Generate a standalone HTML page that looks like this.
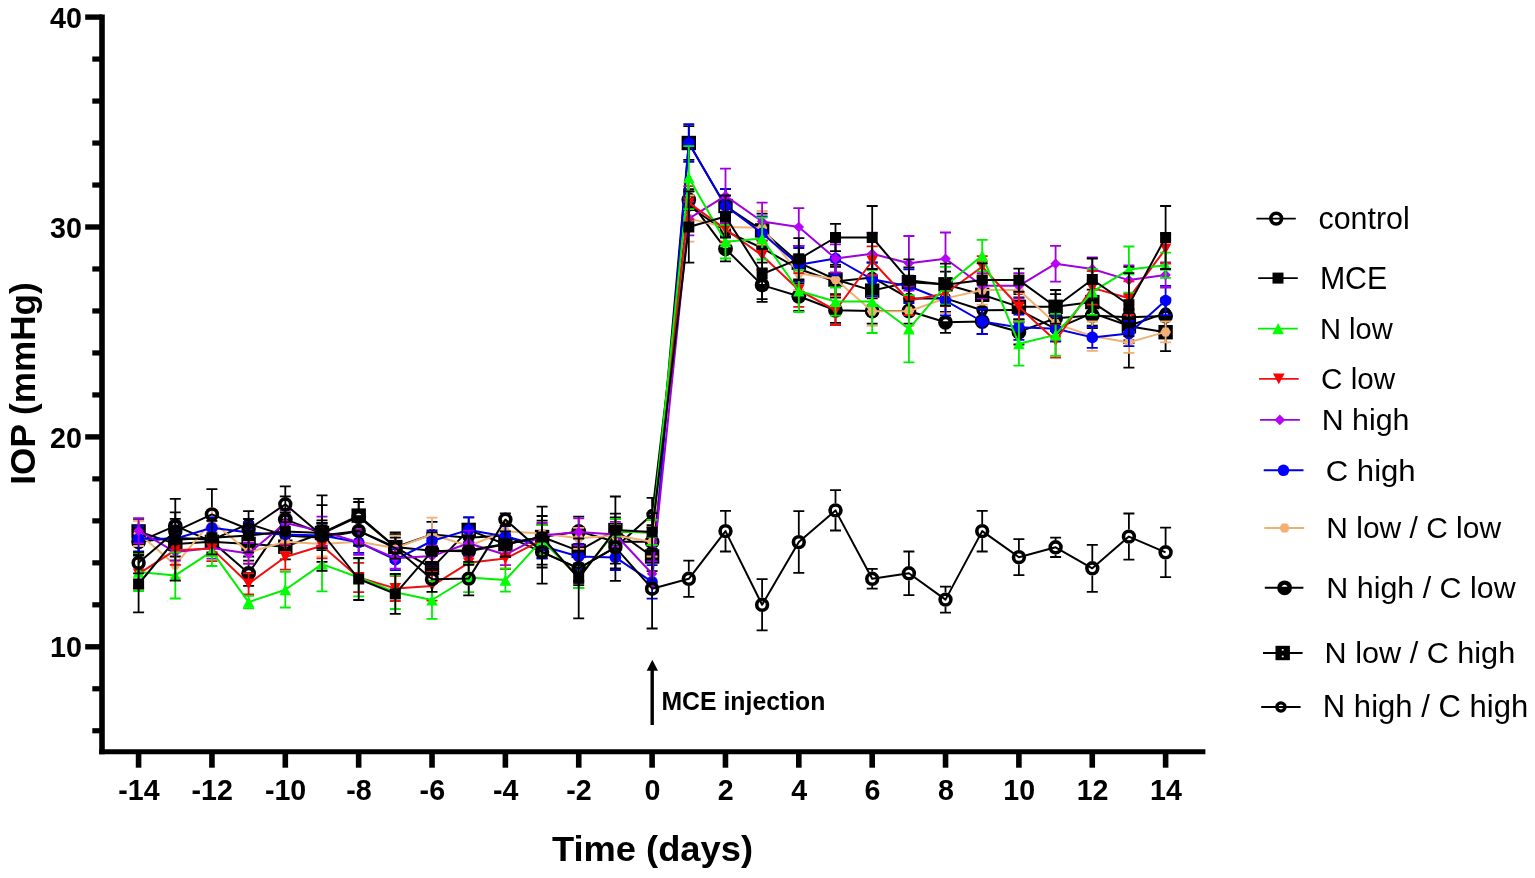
<!DOCTYPE html>
<html><head><meta charset="utf-8"><title>IOP chart</title>
<style>
html,body{margin:0;padding:0;background:#fff;width:1535px;height:878px;overflow:hidden}
svg{display:block}
.b{font-family:"Liberation Sans",Arial,sans-serif;font-weight:bold;font-size:100px;fill:#000}
.r{font-family:"Liberation Sans",Arial,sans-serif;font-weight:normal;font-size:100px;fill:#000}
</style></head><body>
<svg width="1535" height="878" viewBox="0 0 1535 878">
<rect width="1535" height="878" fill="#fff"/>
<path d="M138.6,529.3V536.0M138.6,547.6V554.4M133.1,529.3h11M133.1,554.4h11M175.3,525.1V531.9M175.3,543.5V550.2M169.8,525.1h11M169.8,550.2h11M211.9,527.2V534.0M211.9,545.6V552.3M206.4,527.2h11M206.4,552.3h11M248.6,511.2V518.0M248.6,529.6V536.4M243.1,511.2h11M243.1,536.4h11M285.3,523.0V529.8M285.3,541.4V548.1M279.8,523.0h11M279.8,548.1h11M322.0,525.1V531.9M322.0,543.5V550.2M316.5,525.1h11M316.5,550.2h11M358.7,516.2V525.1M358.7,536.7V545.6M353.2,516.2h11M353.2,545.6h11M395.3,534.5V541.3M395.3,552.9V559.7M389.8,534.5h11M389.8,559.7h11M432.0,521.9V528.7M432.0,540.3V547.1M426.5,521.9h11M426.5,547.1h11M468.7,525.1V531.9M468.7,543.5V550.2M463.2,525.1h11M463.2,550.2h11M505.4,523.0V529.8M505.4,541.4V548.1M499.9,523.0h11M499.9,548.1h11M542.1,539.5V546.3M542.1,557.9V564.7M536.6,539.5h11M536.6,564.7h11M578.7,555.7V562.5M578.7,574.1V580.9M573.2,555.7h11M573.2,580.9h11M615.4,513.7V541.5M615.4,553.1V580.9M609.9,513.7h11M609.9,580.9h11M652.1,497.8V508.8M652.1,520.4V531.4M646.6,497.8h11M646.6,531.4h11M688.8,191.3V200.2M688.8,211.8V220.7M683.3,191.3h11M683.3,220.7h11M725.5,216.5V225.4M725.5,237.0V245.9M720.0,216.5h11M720.0,245.9h11M762.1,233.3V242.2M762.1,253.8V262.7M756.6,233.3h11M756.6,262.7h11M798.8,254.3V263.2M798.8,274.8V283.7M793.3,254.3h11M793.3,283.7h11M835.5,266.9V275.8M835.5,287.4V296.3M830.0,266.9h11M830.0,296.3h11M872.2,262.7V271.6M872.2,283.2V292.1M866.7,262.7h11M866.7,292.1h11M908.9,283.7V292.6M908.9,304.2V313.1M903.4,283.7h11M903.4,313.1h11M945.5,283.7V292.6M945.5,304.2V313.1M940.0,283.7h11M940.0,313.1h11M982.2,297.7V304.5M982.2,316.1V322.9M976.7,297.7h11M976.7,322.9h11M1018.9,297.3V304.1M1018.9,315.7V322.5M1013.4,297.3h11M1013.4,322.5h11M1055.6,316.2V323.0M1055.6,334.6V341.4M1050.1,316.2h11M1050.1,341.4h11M1092.3,300.5V307.3M1092.3,318.9V325.7M1086.8,300.5h11M1086.8,325.7h11M1128.9,311.0V319.9M1128.9,331.5V340.3M1123.4,311.0h11M1123.4,340.3h11M1165.6,298.4V307.3M1165.6,318.9V327.8M1160.1,298.4h11M1160.1,327.8h11" stroke="#000" stroke-width="1.8" fill="none"/>
<polyline points="138.6,541.8 175.3,537.7 211.9,539.8 248.6,523.8 285.3,535.6 322.0,537.7 358.7,530.9 395.3,547.1 432.0,534.5 468.7,537.7 505.4,535.6 542.1,552.1 578.7,568.3 615.4,547.3 652.1,514.6 688.8,206.0 725.5,231.2 762.1,248.0 798.8,269.0 835.5,281.6 872.2,277.4 908.9,298.4 945.5,298.4 982.2,310.3 1018.9,309.9 1055.6,328.8 1092.3,313.1 1128.9,325.7 1165.6,313.1" fill="none" stroke="#000" stroke-width="2" stroke-linejoin="round"/>
<circle cx="138.6" cy="541.8" r="4.10" fill="none" stroke="#000" stroke-width="3.40"/><circle cx="175.3" cy="537.7" r="4.10" fill="none" stroke="#000" stroke-width="3.40"/><circle cx="211.9" cy="539.8" r="4.10" fill="none" stroke="#000" stroke-width="3.40"/><circle cx="248.6" cy="523.8" r="4.10" fill="none" stroke="#000" stroke-width="3.40"/><circle cx="285.3" cy="535.6" r="4.10" fill="none" stroke="#000" stroke-width="3.40"/><circle cx="322.0" cy="537.7" r="4.10" fill="none" stroke="#000" stroke-width="3.40"/><circle cx="358.7" cy="530.9" r="4.10" fill="none" stroke="#000" stroke-width="3.40"/><circle cx="395.3" cy="547.1" r="4.10" fill="none" stroke="#000" stroke-width="3.40"/><circle cx="432.0" cy="534.5" r="4.10" fill="none" stroke="#000" stroke-width="3.40"/><circle cx="468.7" cy="537.7" r="4.10" fill="none" stroke="#000" stroke-width="3.40"/><circle cx="505.4" cy="535.6" r="4.10" fill="none" stroke="#000" stroke-width="3.40"/><circle cx="542.1" cy="552.1" r="4.10" fill="none" stroke="#000" stroke-width="3.40"/><circle cx="578.7" cy="568.3" r="4.10" fill="none" stroke="#000" stroke-width="3.40"/><circle cx="615.4" cy="547.3" r="4.10" fill="none" stroke="#000" stroke-width="3.40"/><circle cx="652.1" cy="514.6" r="4.10" fill="none" stroke="#000" stroke-width="3.40"/><circle cx="688.8" cy="206.0" r="4.10" fill="none" stroke="#000" stroke-width="3.40"/><circle cx="725.5" cy="231.2" r="4.10" fill="none" stroke="#000" stroke-width="3.40"/><circle cx="762.1" cy="248.0" r="4.10" fill="none" stroke="#000" stroke-width="3.40"/><circle cx="798.8" cy="269.0" r="4.10" fill="none" stroke="#000" stroke-width="3.40"/><circle cx="835.5" cy="281.6" r="4.10" fill="none" stroke="#000" stroke-width="3.40"/><circle cx="872.2" cy="277.4" r="4.10" fill="none" stroke="#000" stroke-width="3.40"/><circle cx="908.9" cy="298.4" r="4.10" fill="none" stroke="#000" stroke-width="3.40"/><circle cx="945.5" cy="298.4" r="4.10" fill="none" stroke="#000" stroke-width="3.40"/><circle cx="982.2" cy="310.3" r="4.10" fill="none" stroke="#000" stroke-width="3.40"/><circle cx="1018.9" cy="309.9" r="4.10" fill="none" stroke="#000" stroke-width="3.40"/><circle cx="1055.6" cy="328.8" r="4.10" fill="none" stroke="#000" stroke-width="3.40"/><circle cx="1092.3" cy="313.1" r="4.10" fill="none" stroke="#000" stroke-width="3.40"/><circle cx="1128.9" cy="325.7" r="4.10" fill="none" stroke="#000" stroke-width="3.40"/><circle cx="1165.6" cy="313.1" r="4.10" fill="none" stroke="#000" stroke-width="3.40"/>
<path d="M138.6,518.8V543.9M133.1,518.8h11M133.1,543.9h11M175.3,531.4V556.5M169.8,531.4h11M169.8,556.5h11M211.9,529.3V554.4M206.4,529.3h11M206.4,554.4h11M248.6,531.4V556.5M243.1,531.4h11M243.1,556.5h11M285.3,534.1V559.3M279.8,534.1h11M279.8,559.3h11M322.0,520.4V545.6M316.5,520.4h11M316.5,545.6h11M358.7,498.8V532.4M353.2,498.8h11M353.2,532.4h11M395.3,534.5V559.7M389.8,534.5h11M389.8,559.7h11M432.0,553.4V582.8M426.5,553.4h11M426.5,582.8h11M468.7,517.3V542.5M463.2,517.3h11M463.2,542.5h11M505.4,531.6V556.8M499.9,531.6h11M499.9,556.8h11M542.1,524.4V549.6M536.6,524.4h11M536.6,549.6h11M578.7,538.3V563.5M573.2,538.3h11M573.2,563.5h11M615.4,517.5V542.7M609.9,517.5h11M609.9,542.7h11M652.1,541.8V571.2M646.6,541.8h11M646.6,571.2h11M688.8,126.2V159.8M683.3,126.2h11M683.3,159.8h11M725.5,189.2V222.8M720.0,189.2h11M720.0,222.8h11M762.1,213.6V247.2M756.6,213.6h11M756.6,247.2h11M798.8,245.9V279.5M793.3,245.9h11M793.3,279.5h11M835.5,264.8V294.2M830.0,264.8h11M830.0,294.2h11M872.2,275.9V305.3M866.7,275.9h11M866.7,305.3h11M908.9,267.5V296.9M903.4,267.5h11M903.4,296.9h11M945.5,271.7V296.9M940.0,271.7h11M940.0,296.9h11M982.2,282.2V307.4M976.7,282.2h11M976.7,307.4h11M1018.9,294.2V319.4M1013.4,294.2h11M1013.4,319.4h11M1055.6,294.2V319.4M1050.1,294.2h11M1050.1,319.4h11M1092.3,289.6V314.7M1086.8,289.6h11M1086.8,314.7h11M1128.9,309.5V343.1M1123.4,309.5h11M1123.4,343.1h11M1165.6,313.3V351.1M1160.1,313.3h11M1160.1,351.1h11" stroke="#000" stroke-width="1.8" fill="none"/>
<polyline points="138.6,531.4 175.3,543.9 211.9,541.8 248.6,543.9 285.3,546.7 322.0,533.0 358.7,515.6 395.3,547.1 432.0,568.1 468.7,529.9 505.4,544.2 542.1,537.0 578.7,550.9 615.4,530.1 652.1,556.5 688.8,143.0 725.5,206.0 762.1,230.4 798.8,262.7 835.5,279.5 872.2,290.6 908.9,282.2 945.5,284.3 982.2,294.8 1018.9,306.8 1055.6,306.8 1092.3,302.1 1128.9,326.3 1165.6,332.2" fill="none" stroke="#000" stroke-width="2" stroke-linejoin="round"/>
<rect x="131.4" y="524.2" width="14.40" height="14.40" fill="#000"/><rect x="137.7" y="527.4" width="1.80" height="1.60" fill="#fff"/><rect x="137.7" y="534.0" width="1.80" height="1.60" fill="#fff"/><rect x="168.1" y="536.7" width="14.40" height="14.40" fill="#000"/><rect x="174.4" y="539.9" width="1.80" height="1.60" fill="#fff"/><rect x="174.4" y="546.5" width="1.80" height="1.60" fill="#fff"/><rect x="204.7" y="534.6" width="14.40" height="14.40" fill="#000"/><rect x="211.0" y="537.8" width="1.80" height="1.60" fill="#fff"/><rect x="211.0" y="544.4" width="1.80" height="1.60" fill="#fff"/><rect x="241.4" y="536.7" width="14.40" height="14.40" fill="#000"/><rect x="247.7" y="539.9" width="1.80" height="1.60" fill="#fff"/><rect x="247.7" y="546.5" width="1.80" height="1.60" fill="#fff"/><rect x="278.1" y="539.5" width="14.40" height="14.40" fill="#000"/><rect x="284.4" y="542.7" width="1.80" height="1.60" fill="#fff"/><rect x="284.4" y="549.3" width="1.80" height="1.60" fill="#fff"/><rect x="314.8" y="525.8" width="14.40" height="14.40" fill="#000"/><rect x="321.1" y="529.0" width="1.80" height="1.60" fill="#fff"/><rect x="321.1" y="535.6" width="1.80" height="1.60" fill="#fff"/><rect x="351.5" y="508.4" width="14.40" height="14.40" fill="#000"/><rect x="357.8" y="511.6" width="1.80" height="1.60" fill="#fff"/><rect x="357.8" y="518.2" width="1.80" height="1.60" fill="#fff"/><rect x="388.1" y="539.9" width="14.40" height="14.40" fill="#000"/><rect x="394.4" y="543.1" width="1.80" height="1.60" fill="#fff"/><rect x="394.4" y="549.7" width="1.80" height="1.60" fill="#fff"/><rect x="424.8" y="560.9" width="14.40" height="14.40" fill="#000"/><rect x="431.1" y="564.1" width="1.80" height="1.60" fill="#fff"/><rect x="431.1" y="570.7" width="1.80" height="1.60" fill="#fff"/><rect x="461.5" y="522.7" width="14.40" height="14.40" fill="#000"/><rect x="467.8" y="525.9" width="1.80" height="1.60" fill="#fff"/><rect x="467.8" y="532.5" width="1.80" height="1.60" fill="#fff"/><rect x="498.2" y="537.0" width="14.40" height="14.40" fill="#000"/><rect x="504.5" y="540.2" width="1.80" height="1.60" fill="#fff"/><rect x="504.5" y="546.8" width="1.80" height="1.60" fill="#fff"/><rect x="534.9" y="529.8" width="14.40" height="14.40" fill="#000"/><rect x="541.2" y="533.0" width="1.80" height="1.60" fill="#fff"/><rect x="541.2" y="539.6" width="1.80" height="1.60" fill="#fff"/><rect x="571.5" y="543.7" width="14.40" height="14.40" fill="#000"/><rect x="577.8" y="546.9" width="1.80" height="1.60" fill="#fff"/><rect x="577.8" y="553.5" width="1.80" height="1.60" fill="#fff"/><rect x="608.2" y="522.9" width="14.40" height="14.40" fill="#000"/><rect x="614.5" y="526.1" width="1.80" height="1.60" fill="#fff"/><rect x="614.5" y="532.7" width="1.80" height="1.60" fill="#fff"/><rect x="644.9" y="549.3" width="14.40" height="14.40" fill="#000"/><rect x="651.2" y="552.5" width="1.80" height="1.60" fill="#fff"/><rect x="651.2" y="559.1" width="1.80" height="1.60" fill="#fff"/><rect x="681.6" y="135.8" width="14.40" height="14.40" fill="#000"/><rect x="687.9" y="139.0" width="1.80" height="1.60" fill="#fff"/><rect x="687.9" y="145.6" width="1.80" height="1.60" fill="#fff"/><rect x="718.3" y="198.8" width="14.40" height="14.40" fill="#000"/><rect x="724.6" y="202.0" width="1.80" height="1.60" fill="#fff"/><rect x="724.6" y="208.6" width="1.80" height="1.60" fill="#fff"/><rect x="754.9" y="223.2" width="14.40" height="14.40" fill="#000"/><rect x="761.2" y="226.4" width="1.80" height="1.60" fill="#fff"/><rect x="761.2" y="233.0" width="1.80" height="1.60" fill="#fff"/><rect x="791.6" y="255.5" width="14.40" height="14.40" fill="#000"/><rect x="797.9" y="258.7" width="1.80" height="1.60" fill="#fff"/><rect x="797.9" y="265.3" width="1.80" height="1.60" fill="#fff"/><rect x="828.3" y="272.3" width="14.40" height="14.40" fill="#000"/><rect x="834.6" y="275.5" width="1.80" height="1.60" fill="#fff"/><rect x="834.6" y="282.1" width="1.80" height="1.60" fill="#fff"/><rect x="865.0" y="283.4" width="14.40" height="14.40" fill="#000"/><rect x="871.3" y="286.6" width="1.80" height="1.60" fill="#fff"/><rect x="871.3" y="293.2" width="1.80" height="1.60" fill="#fff"/><rect x="901.7" y="275.0" width="14.40" height="14.40" fill="#000"/><rect x="908.0" y="278.2" width="1.80" height="1.60" fill="#fff"/><rect x="908.0" y="284.8" width="1.80" height="1.60" fill="#fff"/><rect x="938.3" y="277.1" width="14.40" height="14.40" fill="#000"/><rect x="944.6" y="280.3" width="1.80" height="1.60" fill="#fff"/><rect x="944.6" y="286.9" width="1.80" height="1.60" fill="#fff"/><rect x="975.0" y="287.6" width="14.40" height="14.40" fill="#000"/><rect x="981.3" y="290.8" width="1.80" height="1.60" fill="#fff"/><rect x="981.3" y="297.4" width="1.80" height="1.60" fill="#fff"/><rect x="1011.7" y="299.6" width="14.40" height="14.40" fill="#000"/><rect x="1018.0" y="302.8" width="1.80" height="1.60" fill="#fff"/><rect x="1018.0" y="309.4" width="1.80" height="1.60" fill="#fff"/><rect x="1048.4" y="299.6" width="14.40" height="14.40" fill="#000"/><rect x="1054.7" y="302.8" width="1.80" height="1.60" fill="#fff"/><rect x="1054.7" y="309.4" width="1.80" height="1.60" fill="#fff"/><rect x="1085.1" y="294.9" width="14.40" height="14.40" fill="#000"/><rect x="1091.4" y="298.1" width="1.80" height="1.60" fill="#fff"/><rect x="1091.4" y="304.7" width="1.80" height="1.60" fill="#fff"/><rect x="1121.7" y="319.1" width="14.40" height="14.40" fill="#000"/><rect x="1128.0" y="322.3" width="1.80" height="1.60" fill="#fff"/><rect x="1128.0" y="328.9" width="1.80" height="1.60" fill="#fff"/><rect x="1158.4" y="325.0" width="14.40" height="14.40" fill="#000"/><rect x="1164.7" y="328.2" width="1.80" height="1.60" fill="#fff"/><rect x="1164.7" y="334.8" width="1.80" height="1.60" fill="#fff"/>
<path d="M138.6,529.3V554.4M133.1,529.3h11M133.1,554.4h11M175.3,512.3V539.5M169.8,512.3h11M169.8,539.5h11M211.9,526.7V556.1M206.4,526.7h11M206.4,556.1h11M248.6,560.7V585.9M243.1,560.7h11M243.1,585.9h11M285.3,496.3V542.5M279.8,496.3h11M279.8,542.5h11M322.0,505.1V561.8M316.5,505.1h11M316.5,561.8h11M358.7,502.0V531.4M353.2,502.0h11M353.2,531.4h11M395.3,532.4V561.8M389.8,532.4h11M389.8,561.8h11M432.0,538.1V563.3M426.5,538.1h11M426.5,563.3h11M468.7,538.7V563.9M463.2,538.7h11M463.2,563.9h11M505.4,531.6V556.8M499.9,531.6h11M499.9,556.8h11M542.1,516.0V558.0M536.6,516.0h11M536.6,558.0h11M578.7,516.7V546.0M573.2,516.7h11M573.2,546.0h11M615.4,527.2V556.5M609.9,527.2h11M609.9,556.5h11M652.1,525.1V558.6M646.6,525.1h11M646.6,558.6h11M688.8,189.2V210.2M683.3,189.2h11M683.3,210.2h11M725.5,236.2V261.4M720.0,236.2h11M720.0,261.4h11M762.1,268.4V301.9M756.6,268.4h11M756.6,301.9h11M798.8,281.6V311.0M793.3,281.6h11M793.3,311.0h11M835.5,297.7V322.9M830.0,297.7h11M830.0,322.9h11M872.2,298.4V323.6M866.7,298.4h11M866.7,323.6h11M908.9,298.4V323.6M903.4,298.4h11M903.4,323.6h11M945.5,311.8V332.8M940.0,311.8h11M940.0,332.8h11M982.2,308.9V334.0M976.7,308.9h11M976.7,334.0h11M1018.9,319.4V344.5M1013.4,319.4h11M1013.4,344.5h11M1055.6,305.7V330.9M1050.1,305.7h11M1050.1,330.9h11M1092.3,303.0V328.2M1086.8,303.0h11M1086.8,328.2h11M1128.9,266.9V367.6M1123.4,266.9h11M1123.4,367.6h11M1165.6,299.2V332.8M1160.1,299.2h11M1160.1,332.8h11" stroke="#000" stroke-width="1.8" fill="none"/>
<polyline points="138.6,541.8 175.3,525.9 211.9,541.4 248.6,573.3 285.3,519.4 322.0,533.5 358.7,516.7 395.3,547.1 432.0,550.7 468.7,551.3 505.4,544.2 542.1,537.0 578.7,531.4 615.4,541.8 652.1,541.8 688.8,199.7 725.5,248.8 762.1,285.1 798.8,296.3 835.5,310.3 872.2,311.0 908.9,311.0 945.5,322.3 982.2,321.5 1018.9,331.9 1055.6,318.3 1092.3,315.6 1128.9,317.3 1165.6,316.0" fill="none" stroke="#000" stroke-width="2" stroke-linejoin="round"/>
<circle cx="138.6" cy="541.8" r="7.40" fill="#000"/><path d="M135.6,540.8 A3.10,3.10 0 0 1 141.5,540.8 Z" fill="#fff"/><circle cx="175.3" cy="525.9" r="7.40" fill="#000"/><path d="M172.3,524.9 A3.10,3.10 0 0 1 178.2,524.9 Z" fill="#fff"/><circle cx="211.9" cy="541.4" r="7.40" fill="#000"/><path d="M209.0,540.4 A3.10,3.10 0 0 1 214.9,540.4 Z" fill="#fff"/><circle cx="248.6" cy="573.3" r="7.40" fill="#000"/><path d="M245.7,572.3 A3.10,3.10 0 0 1 251.6,572.3 Z" fill="#fff"/><circle cx="285.3" cy="519.4" r="7.40" fill="#000"/><path d="M282.4,518.4 A3.10,3.10 0 0 1 288.2,518.4 Z" fill="#fff"/><circle cx="322.0" cy="533.5" r="7.40" fill="#000"/><path d="M319.0,532.5 A3.10,3.10 0 0 1 324.9,532.5 Z" fill="#fff"/><circle cx="358.7" cy="516.7" r="7.40" fill="#000"/><path d="M355.7,515.7 A3.10,3.10 0 0 1 361.6,515.7 Z" fill="#fff"/><circle cx="395.3" cy="547.1" r="7.40" fill="#000"/><path d="M392.4,546.1 A3.10,3.10 0 0 1 398.3,546.1 Z" fill="#fff"/><circle cx="432.0" cy="550.7" r="7.40" fill="#000"/><path d="M429.1,549.7 A3.10,3.10 0 0 1 435.0,549.7 Z" fill="#fff"/><circle cx="468.7" cy="551.3" r="7.40" fill="#000"/><path d="M465.8,550.3 A3.10,3.10 0 0 1 471.6,550.3 Z" fill="#fff"/><circle cx="505.4" cy="544.2" r="7.40" fill="#000"/><path d="M502.4,543.2 A3.10,3.10 0 0 1 508.3,543.2 Z" fill="#fff"/><circle cx="542.1" cy="537.0" r="7.40" fill="#000"/><path d="M539.1,536.0 A3.10,3.10 0 0 1 545.0,536.0 Z" fill="#fff"/><circle cx="578.7" cy="531.4" r="7.40" fill="#000"/><path d="M575.8,530.4 A3.10,3.10 0 0 1 581.7,530.4 Z" fill="#fff"/><circle cx="615.4" cy="541.8" r="7.40" fill="#000"/><path d="M612.5,540.8 A3.10,3.10 0 0 1 618.4,540.8 Z" fill="#fff"/><circle cx="652.1" cy="541.8" r="7.40" fill="#000"/><path d="M649.2,540.8 A3.10,3.10 0 0 1 655.0,540.8 Z" fill="#fff"/><circle cx="688.8" cy="199.7" r="7.40" fill="#000"/><path d="M685.8,198.7 A3.10,3.10 0 0 1 691.7,198.7 Z" fill="#fff"/><circle cx="725.5" cy="248.8" r="7.40" fill="#000"/><path d="M722.5,247.8 A3.10,3.10 0 0 1 728.4,247.8 Z" fill="#fff"/><circle cx="762.1" cy="285.1" r="7.40" fill="#000"/><path d="M759.2,284.1 A3.10,3.10 0 0 1 765.1,284.1 Z" fill="#fff"/><circle cx="798.8" cy="296.3" r="7.40" fill="#000"/><path d="M795.9,295.3 A3.10,3.10 0 0 1 801.8,295.3 Z" fill="#fff"/><circle cx="835.5" cy="310.3" r="7.40" fill="#000"/><path d="M832.6,309.3 A3.10,3.10 0 0 1 838.4,309.3 Z" fill="#fff"/><circle cx="872.2" cy="311.0" r="7.40" fill="#000"/><path d="M869.2,310.0 A3.10,3.10 0 0 1 875.1,310.0 Z" fill="#fff"/><circle cx="908.9" cy="311.0" r="7.40" fill="#000"/><path d="M905.9,310.0 A3.10,3.10 0 0 1 911.8,310.0 Z" fill="#fff"/><circle cx="945.5" cy="322.3" r="7.40" fill="#000"/><path d="M942.6,321.3 A3.10,3.10 0 0 1 948.5,321.3 Z" fill="#fff"/><circle cx="982.2" cy="321.5" r="7.40" fill="#000"/><path d="M979.3,320.5 A3.10,3.10 0 0 1 985.2,320.5 Z" fill="#fff"/><circle cx="1018.9" cy="331.9" r="7.40" fill="#000"/><path d="M1016.0,330.9 A3.10,3.10 0 0 1 1021.8,330.9 Z" fill="#fff"/><circle cx="1055.6" cy="318.3" r="7.40" fill="#000"/><path d="M1052.6,317.3 A3.10,3.10 0 0 1 1058.5,317.3 Z" fill="#fff"/><circle cx="1092.3" cy="315.6" r="7.40" fill="#000"/><path d="M1089.3,314.6 A3.10,3.10 0 0 1 1095.2,314.6 Z" fill="#fff"/><circle cx="1128.9" cy="317.3" r="7.40" fill="#000"/><path d="M1126.0,316.3 A3.10,3.10 0 0 1 1131.9,316.3 Z" fill="#fff"/><circle cx="1165.6" cy="316.0" r="7.40" fill="#000"/><path d="M1162.7,315.0 A3.10,3.10 0 0 1 1168.6,315.0 Z" fill="#fff"/>
<path d="M138.6,520.9V546.0M133.1,520.9h11M133.1,546.0h11M175.3,552.3V577.5M169.8,552.3h11M169.8,577.5h11M211.9,510.4V531.4M206.4,510.4h11M206.4,531.4h11M248.6,541.8V562.8M243.1,541.8h11M243.1,562.8h11M285.3,531.4V552.3M279.8,531.4h11M279.8,552.3h11M322.0,531.4V556.5M316.5,531.4h11M316.5,556.5h11M358.7,529.3V554.4M353.2,529.3h11M353.2,554.4h11M395.3,535.6V560.7M389.8,535.6h11M389.8,560.7h11M432.0,517.7V551.3M426.5,517.7h11M426.5,551.3h11M468.7,533.5V558.6M463.2,533.5h11M463.2,558.6h11M505.4,520.9V541.8M499.9,520.9h11M499.9,541.8h11M542.1,523.0V543.9M536.6,523.0h11M536.6,543.9h11M578.7,527.8V548.8M573.2,527.8h11M573.2,548.8h11M615.4,525.1V546.0M609.9,525.1h11M609.9,546.0h11M652.1,527.2V556.5M646.6,527.2h11M646.6,556.5h11M688.8,195.5V241.7M683.3,195.5h11M683.3,241.7h11M725.5,210.2V243.8M720.0,210.2h11M720.0,243.8h11M762.1,211.0V244.6M756.6,211.0h11M756.6,244.6h11M798.8,256.4V290.0M793.3,256.4h11M793.3,290.0h11M835.5,262.5V296.1M830.0,262.5h11M830.0,296.1h11M872.2,296.5V325.9M866.7,296.5h11M866.7,325.9h11M908.9,296.5V325.9M903.4,296.5h11M903.4,325.9h11M945.5,283.7V313.1M940.0,283.7h11M940.0,313.1h11M982.2,275.3V304.7M976.7,275.3h11M976.7,304.7h11M1018.9,275.3V304.7M1013.4,275.3h11M1013.4,304.7h11M1055.6,308.9V338.2M1050.1,308.9h11M1050.1,338.2h11M1092.3,321.5V350.8M1086.8,321.5h11M1086.8,350.8h11M1128.9,331.9V352.9M1123.4,331.9h11M1123.4,352.9h11M1165.6,321.5V342.4M1160.1,321.5h11M1160.1,342.4h11" stroke="#f0b070" stroke-width="1.8" fill="none"/>
<polyline points="138.6,533.5 175.3,564.9 211.9,520.9 248.6,552.3 285.3,541.8 322.0,543.9 358.7,541.8 395.3,548.1 432.0,534.5 468.7,546.0 505.4,531.4 542.1,533.5 578.7,538.3 615.4,535.6 652.1,541.8 688.8,218.6 725.5,227.0 762.1,227.8 798.8,273.2 835.5,279.3 872.2,311.2 908.9,311.2 945.5,298.4 982.2,290.0 1018.9,290.0 1055.6,323.6 1092.3,336.1 1128.9,342.4 1165.6,331.9" fill="none" stroke="#f0b070" stroke-width="2" stroke-linejoin="round"/>
<polygon points="143.9,533.5 141.2,538.0 135.9,538.0 133.3,533.5 135.9,528.9 141.2,528.9" fill="#f2b077"/><polygon points="180.6,564.9 177.9,569.5 172.6,569.5 170.0,564.9 172.6,560.3 177.9,560.3" fill="#f2b077"/><polygon points="217.2,520.9 214.6,525.4 209.3,525.4 206.6,520.9 209.3,516.3 214.6,516.3" fill="#f2b077"/><polygon points="253.9,552.3 251.3,556.9 246.0,556.9 243.3,552.3 246.0,547.8 251.3,547.8" fill="#f2b077"/><polygon points="290.6,541.8 287.9,546.4 282.7,546.4 280.0,541.8 282.7,537.3 287.9,537.3" fill="#f2b077"/><polygon points="327.3,543.9 324.6,548.5 319.3,548.5 316.7,543.9 319.3,539.4 324.6,539.4" fill="#f2b077"/><polygon points="364.0,541.8 361.3,546.4 356.0,546.4 353.4,541.8 356.0,537.3 361.3,537.3" fill="#f2b077"/><polygon points="400.6,548.1 398.0,552.7 392.7,552.7 390.0,548.1 392.7,543.6 398.0,543.6" fill="#f2b077"/><polygon points="437.3,534.5 434.7,539.1 429.4,539.1 426.7,534.5 429.4,529.9 434.7,529.9" fill="#f2b077"/><polygon points="474.0,546.0 471.4,550.6 466.1,550.6 463.4,546.0 466.1,541.5 471.4,541.5" fill="#f2b077"/><polygon points="510.7,531.4 508.0,535.9 502.7,535.9 500.1,531.4 502.7,526.8 508.0,526.8" fill="#f2b077"/><polygon points="547.4,533.5 544.7,538.0 539.4,538.0 536.8,533.5 539.4,528.9 544.7,528.9" fill="#f2b077"/><polygon points="584.0,538.3 581.4,542.9 576.1,542.9 573.4,538.3 576.1,533.7 581.4,533.7" fill="#f2b077"/><polygon points="620.7,535.6 618.1,540.1 612.8,540.1 610.1,535.6 612.8,531.0 618.1,531.0" fill="#f2b077"/><polygon points="657.4,541.8 654.8,546.4 649.5,546.4 646.8,541.8 649.5,537.3 654.8,537.3" fill="#f2b077"/><polygon points="694.1,218.6 691.4,223.2 686.1,223.2 683.5,218.6 686.1,214.0 691.4,214.0" fill="#f2b077"/><polygon points="730.8,227.0 728.1,231.6 722.8,231.6 720.2,227.0 722.8,222.4 728.1,222.4" fill="#f2b077"/><polygon points="767.4,227.8 764.8,232.4 759.5,232.4 756.8,227.8 759.5,223.2 764.8,223.2" fill="#f2b077"/><polygon points="804.1,273.2 801.5,277.8 796.2,277.8 793.5,273.2 796.2,268.6 801.5,268.6" fill="#f2b077"/><polygon points="840.8,279.3 838.1,283.9 832.9,283.9 830.2,279.3 832.9,274.7 838.1,274.7" fill="#f2b077"/><polygon points="877.5,311.2 874.8,315.8 869.5,315.8 866.9,311.2 869.5,306.6 874.8,306.6" fill="#f2b077"/><polygon points="914.2,311.2 911.5,315.8 906.2,315.8 903.6,311.2 906.2,306.6 911.5,306.6" fill="#f2b077"/><polygon points="950.8,298.4 948.2,303.0 942.9,303.0 940.2,298.4 942.9,293.8 948.2,293.8" fill="#f2b077"/><polygon points="987.5,290.0 984.9,294.6 979.6,294.6 976.9,290.0 979.6,285.4 984.9,285.4" fill="#f2b077"/><polygon points="1024.2,290.0 1021.6,294.6 1016.3,294.6 1013.6,290.0 1016.3,285.4 1021.6,285.4" fill="#f2b077"/><polygon points="1060.9,323.6 1058.2,328.1 1052.9,328.1 1050.3,323.6 1052.9,319.0 1058.2,319.0" fill="#f2b077"/><polygon points="1097.6,336.1 1094.9,340.7 1089.6,340.7 1087.0,336.1 1089.6,331.6 1094.9,331.6" fill="#f2b077"/><polygon points="1134.2,342.4 1131.6,347.0 1126.3,347.0 1123.6,342.4 1126.3,337.9 1131.6,337.9" fill="#f2b077"/><polygon points="1170.9,331.9 1168.3,336.5 1163.0,336.5 1160.3,331.9 1163.0,327.4 1168.3,327.4" fill="#f2b077"/>
<path d="M138.6,526.1V551.3M133.1,526.1h11M133.1,551.3h11M175.3,526.1V551.3M169.8,526.1h11M169.8,551.3h11M211.9,517.3V538.3M206.4,517.3h11M206.4,538.3h11M248.6,522.1V543.1M243.1,522.1h11M243.1,543.1h11M285.3,524.0V545.0M279.8,524.0h11M279.8,545.0h11M322.0,523.0V548.1M316.5,523.0h11M316.5,548.1h11M358.7,531.8V552.8M353.2,531.8h11M353.2,552.8h11M395.3,549.2V570.2M389.8,549.2h11M389.8,570.2h11M432.0,530.5V551.5M426.5,530.5h11M426.5,551.5h11M468.7,517.3V542.5M463.2,517.3h11M463.2,542.5h11M505.4,525.9V546.9M499.9,525.9h11M499.9,546.9h11M542.1,533.5V558.6M536.6,533.5h11M536.6,558.6h11M578.7,543.9V569.1M573.2,543.9h11M573.2,569.1h11M615.4,544.8V570.0M609.9,544.8h11M609.9,570.0h11M652.1,565.1V598.7M646.6,565.1h11M646.6,598.7h11M688.8,124.1V161.9M683.3,124.1h11M683.3,161.9h11M725.5,189.2V222.8M720.0,189.2h11M720.0,222.8h11M762.1,216.5V250.1M756.6,216.5h11M756.6,250.1h11M798.8,248.0V281.6M793.3,248.0h11M793.3,281.6h11M835.5,241.7V275.3M830.0,241.7h11M830.0,275.3h11M872.2,262.5V296.1M866.7,262.5h11M866.7,296.1h11M908.9,269.4V303.0M903.4,269.4h11M903.4,303.0h11M945.5,286.0V315.4M940.0,286.0h11M940.0,315.4h11M982.2,308.9V334.0M976.7,308.9h11M976.7,334.0h11M1018.9,314.7V339.9M1013.4,314.7h11M1013.4,339.9h11M1055.6,316.2V341.4M1050.1,316.2h11M1050.1,341.4h11M1092.3,326.9V347.9M1086.8,326.9h11M1086.8,347.9h11M1128.9,321.0V346.2M1123.4,321.0h11M1123.4,346.2h11M1165.6,285.8V315.2M1160.1,285.8h11M1160.1,315.2h11" stroke="#0000e6" stroke-width="1.8" fill="none"/>
<polyline points="138.6,538.7 175.3,538.7 211.9,527.8 248.6,532.6 285.3,534.5 322.0,535.6 358.7,542.3 395.3,559.7 432.0,541.0 468.7,529.9 505.4,536.4 542.1,546.0 578.7,556.5 615.4,557.4 652.1,581.9 688.8,143.0 725.5,206.0 762.1,233.3 798.8,264.8 835.5,258.5 872.2,279.3 908.9,286.2 945.5,300.7 982.2,321.5 1018.9,327.3 1055.6,328.8 1092.3,337.4 1128.9,333.6 1165.6,300.5" fill="none" stroke="#0000e6" stroke-width="2" stroke-linejoin="round"/>
<circle cx="138.6" cy="538.7" r="5.80" fill="#0000ff"/><circle cx="175.3" cy="538.7" r="5.80" fill="#0000ff"/><circle cx="211.9" cy="527.8" r="5.80" fill="#0000ff"/><circle cx="248.6" cy="532.6" r="5.80" fill="#0000ff"/><circle cx="285.3" cy="534.5" r="5.80" fill="#0000ff"/><circle cx="322.0" cy="535.6" r="5.80" fill="#0000ff"/><circle cx="358.7" cy="542.3" r="5.80" fill="#0000ff"/><circle cx="395.3" cy="559.7" r="5.80" fill="#0000ff"/><circle cx="432.0" cy="541.0" r="5.80" fill="#0000ff"/><circle cx="468.7" cy="529.9" r="5.80" fill="#0000ff"/><circle cx="505.4" cy="536.4" r="5.80" fill="#0000ff"/><circle cx="542.1" cy="546.0" r="5.80" fill="#0000ff"/><circle cx="578.7" cy="556.5" r="5.80" fill="#0000ff"/><circle cx="615.4" cy="557.4" r="5.80" fill="#0000ff"/><circle cx="652.1" cy="581.9" r="5.80" fill="#0000ff"/><circle cx="688.8" cy="143.0" r="5.80" fill="#0000ff"/><circle cx="725.5" cy="206.0" r="5.80" fill="#0000ff"/><circle cx="762.1" cy="233.3" r="5.80" fill="#0000ff"/><circle cx="798.8" cy="264.8" r="5.80" fill="#0000ff"/><circle cx="835.5" cy="258.5" r="5.80" fill="#0000ff"/><circle cx="872.2" cy="279.3" r="5.80" fill="#0000ff"/><circle cx="908.9" cy="286.2" r="5.80" fill="#0000ff"/><circle cx="945.5" cy="300.7" r="5.80" fill="#0000ff"/><circle cx="982.2" cy="321.5" r="5.80" fill="#0000ff"/><circle cx="1018.9" cy="327.3" r="5.80" fill="#0000ff"/><circle cx="1055.6" cy="328.8" r="5.80" fill="#0000ff"/><circle cx="1092.3" cy="337.4" r="5.80" fill="#0000ff"/><circle cx="1128.9" cy="333.6" r="5.80" fill="#0000ff"/><circle cx="1165.6" cy="300.5" r="5.80" fill="#0000ff"/>
<path d="M138.6,518.1V543.3M133.1,518.1h11M133.1,543.3h11M175.3,543.7V560.5M169.8,543.7h11M169.8,560.5h11M211.9,537.7V558.6M206.4,537.7h11M206.4,558.6h11M248.6,542.9V563.9M243.1,542.9h11M243.1,563.9h11M285.3,510.4V535.6M279.8,510.4h11M279.8,535.6h11M322.0,516.7V546.0M316.5,516.7h11M316.5,546.0h11M358.7,529.7V554.9M353.2,529.7h11M353.2,554.9h11M395.3,547.7V568.7M389.8,547.7h11M389.8,568.7h11M432.0,545.6V566.6M426.5,545.6h11M426.5,566.6h11M468.7,530.7V555.9M463.2,530.7h11M463.2,555.9h11M505.4,544.2V565.1M499.9,544.2h11M499.9,565.1h11M542.1,523.0V548.1M536.6,523.0h11M536.6,548.1h11M578.7,518.3V545.6M573.2,518.3h11M573.2,545.6h11M615.4,521.9V547.1M609.9,521.9h11M609.9,547.1h11M652.1,561.2V586.3M646.6,561.2h11M646.6,586.3h11M688.8,201.8V235.4M683.3,201.8h11M683.3,235.4h11M725.5,168.6V223.2M720.0,168.6h11M720.0,223.2h11M762.1,202.7V240.4M756.6,202.7h11M756.6,240.4h11M798.8,208.1V245.9M793.3,208.1h11M793.3,245.9h11M835.5,244.4V272.5M830.0,244.4h11M830.0,272.5h11M872.2,232.7V274.6M866.7,232.7h11M866.7,274.6h11M908.9,236.0V290.6M903.4,236.0h11M903.4,290.6h11M945.5,232.5V284.9M940.0,232.5h11M940.0,284.9h11M982.2,273.2V298.4M976.7,273.2h11M976.7,298.4h11M1018.9,273.2V298.4M1013.4,273.2h11M1013.4,298.4h11M1055.6,245.9V281.6M1050.1,245.9h11M1050.1,281.6h11M1092.3,257.4V280.5M1086.8,257.4h11M1086.8,280.5h11M1128.9,265.4V294.8M1123.4,265.4h11M1123.4,294.8h11M1165.6,262.3V287.5M1160.1,262.3h11M1160.1,287.5h11" stroke="#a000e0" stroke-width="1.8" fill="none"/>
<polyline points="138.6,530.7 175.3,552.1 211.9,548.1 248.6,553.4 285.3,523.0 322.0,531.4 358.7,542.3 395.3,558.2 432.0,556.1 468.7,543.3 505.4,554.7 542.1,535.6 578.7,532.0 615.4,534.5 652.1,573.8 688.8,218.6 725.5,195.9 762.1,221.5 798.8,227.0 835.5,258.5 872.2,253.7 908.9,263.3 945.5,258.7 982.2,285.8 1018.9,285.8 1055.6,263.7 1092.3,269.0 1128.9,280.1 1165.6,274.9" fill="none" stroke="#a000e0" stroke-width="2" stroke-linejoin="round"/>
<polygon points="138.6,525.4 143.9,530.7 138.6,536.0 133.3,530.7" fill="#b800fa"/><polygon points="175.3,546.8 180.6,552.1 175.3,557.4 170.0,552.1" fill="#b800fa"/><polygon points="211.9,542.8 217.2,548.1 211.9,553.4 206.6,548.1" fill="#b800fa"/><polygon points="248.6,548.1 253.9,553.4 248.6,558.7 243.3,553.4" fill="#b800fa"/><polygon points="285.3,517.7 290.6,523.0 285.3,528.3 280.0,523.0" fill="#b800fa"/><polygon points="322.0,526.1 327.3,531.4 322.0,536.7 316.7,531.4" fill="#b800fa"/><polygon points="358.7,537.0 364.0,542.3 358.7,547.6 353.4,542.3" fill="#b800fa"/><polygon points="395.3,552.9 400.6,558.2 395.3,563.5 390.0,558.2" fill="#b800fa"/><polygon points="432.0,550.8 437.3,556.1 432.0,561.4 426.7,556.1" fill="#b800fa"/><polygon points="468.7,538.0 474.0,543.3 468.7,548.6 463.4,543.3" fill="#b800fa"/><polygon points="505.4,549.4 510.7,554.7 505.4,560.0 500.1,554.7" fill="#b800fa"/><polygon points="542.1,530.3 547.4,535.6 542.1,540.9 536.8,535.6" fill="#b800fa"/><polygon points="578.7,526.7 584.0,532.0 578.7,537.3 573.4,532.0" fill="#b800fa"/><polygon points="615.4,529.2 620.7,534.5 615.4,539.8 610.1,534.5" fill="#b800fa"/><polygon points="652.1,568.5 657.4,573.8 652.1,579.1 646.8,573.8" fill="#b800fa"/><polygon points="688.8,213.3 694.1,218.6 688.8,223.9 683.5,218.6" fill="#b800fa"/><polygon points="725.5,190.6 730.8,195.9 725.5,201.2 720.2,195.9" fill="#b800fa"/><polygon points="762.1,216.2 767.4,221.5 762.1,226.8 756.8,221.5" fill="#b800fa"/><polygon points="798.8,221.7 804.1,227.0 798.8,232.3 793.5,227.0" fill="#b800fa"/><polygon points="835.5,253.2 840.8,258.5 835.5,263.8 830.2,258.5" fill="#b800fa"/><polygon points="872.2,248.4 877.5,253.7 872.2,259.0 866.9,253.7" fill="#b800fa"/><polygon points="908.9,258.0 914.2,263.3 908.9,268.6 903.6,263.3" fill="#b800fa"/><polygon points="945.5,253.4 950.8,258.7 945.5,264.0 940.2,258.7" fill="#b800fa"/><polygon points="982.2,280.5 987.5,285.8 982.2,291.1 976.9,285.8" fill="#b800fa"/><polygon points="1018.9,280.5 1024.2,285.8 1018.9,291.1 1013.6,285.8" fill="#b800fa"/><polygon points="1055.6,258.4 1060.9,263.7 1055.6,269.0 1050.3,263.7" fill="#b800fa"/><polygon points="1092.3,263.7 1097.6,269.0 1092.3,274.3 1087.0,269.0" fill="#b800fa"/><polygon points="1128.9,274.8 1134.2,280.1 1128.9,285.4 1123.6,280.1" fill="#b800fa"/><polygon points="1165.6,269.6 1170.9,274.9 1165.6,280.2 1160.3,274.9" fill="#b800fa"/>
<path d="M138.6,559.1V588.4M133.1,559.1h11M133.1,588.4h11M175.3,535.6V564.9M169.8,535.6h11M169.8,564.9h11M211.9,536.0V561.2M206.4,536.0h11M206.4,561.2h11M248.6,573.3V594.3M243.1,573.3h11M243.1,594.3h11M285.3,544.4V569.6M279.8,544.4h11M279.8,569.6h11M322.0,533.2V558.4M316.5,533.2h11M316.5,558.4h11M358.7,562.8V592.2M353.2,562.8h11M353.2,592.2h11M395.3,575.9V601.0M389.8,575.9h11M389.8,601.0h11M432.0,571.2V600.6M426.5,571.2h11M426.5,600.6h11M468.7,550.2V575.4M463.2,550.2h11M463.2,575.4h11M505.4,548.1V569.1M499.9,548.1h11M499.9,569.1h11M542.1,525.1V554.4M536.6,525.1h11M536.6,554.4h11M578.7,567.0V588.0M573.2,567.0h11M573.2,588.0h11M615.4,518.8V543.9M609.9,518.8h11M609.9,543.9h11M652.1,519.8V545.0M646.6,519.8h11M646.6,545.0h11M688.8,186.1V219.7M683.3,186.1h11M683.3,219.7h11M725.5,216.5V241.7M720.0,216.5h11M720.0,241.7h11M762.1,240.9V270.2M756.6,240.9h11M756.6,270.2h11M798.8,273.2V306.8M793.3,273.2h11M793.3,306.8h11M835.5,295.6V325.0M830.0,295.6h11M830.0,325.0h11M872.2,246.3V275.7M866.7,246.3h11M866.7,275.7h11M908.9,285.8V315.2M903.4,285.8h11M903.4,315.2h11M945.5,280.9V306.1M940.0,280.9h11M940.0,306.1h11M982.2,256.2V277.2M976.7,256.2h11M976.7,277.2h11M1018.9,292.1V321.5M1013.4,292.1h11M1013.4,321.5h11M1055.6,324.0V357.6M1050.1,324.0h11M1050.1,357.6h11M1092.3,271.1V304.7M1086.8,271.1h11M1086.8,304.7h11M1128.9,281.4V314.9M1123.4,281.4h11M1123.4,314.9h11M1165.6,234.1V263.5M1160.1,234.1h11M1160.1,263.5h11" stroke="#ee1010" stroke-width="1.8" fill="none"/>
<polyline points="138.6,573.8 175.3,550.2 211.9,548.6 248.6,583.8 285.3,557.0 322.0,545.8 358.7,577.5 395.3,588.4 432.0,585.9 468.7,562.8 505.4,558.6 542.1,539.8 578.7,577.5 615.4,531.4 652.1,532.4 688.8,202.9 725.5,229.1 762.1,255.5 798.8,290.0 835.5,310.3 872.2,261.0 908.9,300.5 945.5,293.5 982.2,266.7 1018.9,306.8 1055.6,340.8 1092.3,287.9 1128.9,298.2 1165.6,248.8" fill="none" stroke="#ee1010" stroke-width="2" stroke-linejoin="round"/>
<polygon points="132.8,568.4 144.4,568.4 138.6,579.2" fill="#ff0000"/><polygon points="169.5,544.8 181.1,544.8 175.3,555.6" fill="#ff0000"/><polygon points="206.1,543.2 217.7,543.2 211.9,554.0" fill="#ff0000"/><polygon points="242.8,578.4 254.4,578.4 248.6,589.2" fill="#ff0000"/><polygon points="279.5,551.6 291.1,551.6 285.3,562.4" fill="#ff0000"/><polygon points="316.2,540.4 327.8,540.4 322.0,551.2" fill="#ff0000"/><polygon points="352.9,572.1 364.5,572.1 358.7,582.9" fill="#ff0000"/><polygon points="389.5,583.0 401.1,583.0 395.3,593.8" fill="#ff0000"/><polygon points="426.2,580.5 437.8,580.5 432.0,591.3" fill="#ff0000"/><polygon points="462.9,557.4 474.5,557.4 468.7,568.2" fill="#ff0000"/><polygon points="499.6,553.2 511.2,553.2 505.4,564.0" fill="#ff0000"/><polygon points="536.3,534.4 547.9,534.4 542.1,545.2" fill="#ff0000"/><polygon points="572.9,572.1 584.5,572.1 578.7,582.9" fill="#ff0000"/><polygon points="609.6,526.0 621.2,526.0 615.4,536.8" fill="#ff0000"/><polygon points="646.3,527.0 657.9,527.0 652.1,537.8" fill="#ff0000"/><polygon points="683.0,197.5 694.6,197.5 688.8,208.3" fill="#ff0000"/><polygon points="719.7,223.7 731.3,223.7 725.5,234.5" fill="#ff0000"/><polygon points="756.3,250.1 767.9,250.1 762.1,260.9" fill="#ff0000"/><polygon points="793.0,284.6 804.6,284.6 798.8,295.4" fill="#ff0000"/><polygon points="829.7,304.9 841.3,304.9 835.5,315.7" fill="#ff0000"/><polygon points="866.4,255.6 878.0,255.6 872.2,266.4" fill="#ff0000"/><polygon points="903.1,295.1 914.7,295.1 908.9,305.9" fill="#ff0000"/><polygon points="939.7,288.1 951.3,288.1 945.5,298.9" fill="#ff0000"/><polygon points="976.4,261.3 988.0,261.3 982.2,272.1" fill="#ff0000"/><polygon points="1013.1,301.4 1024.7,301.4 1018.9,312.2" fill="#ff0000"/><polygon points="1049.8,335.4 1061.4,335.4 1055.6,346.2" fill="#ff0000"/><polygon points="1086.5,282.5 1098.1,282.5 1092.3,293.3" fill="#ff0000"/><polygon points="1123.1,292.8 1134.7,292.8 1128.9,303.6" fill="#ff0000"/><polygon points="1159.8,243.4 1171.4,243.4 1165.6,254.2" fill="#ff0000"/>
<path d="M138.6,553.2V591.0M133.1,553.2h11M133.1,591.0h11M175.3,552.3V598.5M169.8,552.3h11M169.8,598.5h11M211.9,536.6V566.0M206.4,536.6h11M206.4,566.0h11M248.6,595.8V608.4M243.1,595.8h11M243.1,608.4h11M285.3,571.9V607.5M279.8,571.9h11M279.8,607.5h11M322.0,536.8V591.4M316.5,536.8h11M316.5,591.4h11M358.7,558.6V596.4M353.2,558.6h11M353.2,596.4h11M395.3,575.4V609.0M389.8,575.4h11M389.8,609.0h11M432.0,581.1V618.9M426.5,581.1h11M426.5,618.9h11M468.7,562.8V592.2M463.2,562.8h11M463.2,592.2h11M505.4,568.5V591.6M499.9,568.5h11M499.9,591.6h11M542.1,525.1V554.4M536.6,525.1h11M536.6,554.4h11M578.7,567.0V588.0M573.2,567.0h11M573.2,588.0h11M615.4,518.8V543.9M609.9,518.8h11M609.9,543.9h11M652.1,519.8V545.0M646.6,519.8h11M646.6,545.0h11M688.8,146.2V209.2M683.3,146.2h11M683.3,209.2h11M725.5,224.9V258.5M720.0,224.9h11M720.0,258.5h11M762.1,217.6V259.5M756.6,217.6h11M756.6,259.5h11M798.8,270.0V312.0M793.3,270.0h11M793.3,312.0h11M835.5,287.5V315.6M830.0,287.5h11M830.0,315.6h11M872.2,270.0V333.0M866.7,270.0h11M866.7,333.0h11M908.9,295.2V362.4M903.4,295.2h11M903.4,362.4h11M945.5,266.9V304.7M940.0,266.9h11M940.0,304.7h11M982.2,239.8V271.3M976.7,239.8h11M976.7,271.3h11M1018.9,321.7V365.7M1013.4,321.7h11M1013.4,365.7h11M1055.6,313.9V355.9M1050.1,313.9h11M1050.1,355.9h11M1092.3,268.8V314.9M1086.8,268.8h11M1086.8,314.9h11M1128.9,246.5V292.7M1123.4,246.5h11M1123.4,292.7h11M1165.6,252.6V277.8M1160.1,252.6h11M1160.1,277.8h11" stroke="#00ee00" stroke-width="1.8" fill="none"/>
<polyline points="138.6,572.1 175.3,575.4 211.9,551.3 248.6,602.1 285.3,589.7 322.0,564.1 358.7,577.5 395.3,592.2 432.0,600.0 468.7,577.5 505.4,580.1 542.1,539.8 578.7,577.5 615.4,531.4 652.1,532.4 688.8,177.7 725.5,241.7 762.1,238.5 798.8,291.0 835.5,301.5 872.2,301.5 908.9,328.8 945.5,285.8 982.2,255.5 1018.9,343.7 1055.6,334.9 1092.3,291.9 1128.9,269.6 1165.6,265.2" fill="none" stroke="#00ee00" stroke-width="2" stroke-linejoin="round"/>
<polygon points="132.8,577.7 144.4,577.7 138.6,566.5" fill="#00ff00"/><polygon points="169.5,581.0 181.1,581.0 175.3,569.8" fill="#00ff00"/><polygon points="206.1,556.9 217.7,556.9 211.9,545.7" fill="#00ff00"/><polygon points="242.8,607.7 254.4,607.7 248.6,596.5" fill="#00ff00"/><polygon points="279.5,595.3 291.1,595.3 285.3,584.1" fill="#00ff00"/><polygon points="316.2,569.7 327.8,569.7 322.0,558.5" fill="#00ff00"/><polygon points="352.9,583.1 364.5,583.1 358.7,571.9" fill="#00ff00"/><polygon points="389.5,597.8 401.1,597.8 395.3,586.6" fill="#00ff00"/><polygon points="426.2,605.6 437.8,605.6 432.0,594.4" fill="#00ff00"/><polygon points="462.9,583.1 474.5,583.1 468.7,571.9" fill="#00ff00"/><polygon points="499.6,585.7 511.2,585.7 505.4,574.5" fill="#00ff00"/><polygon points="536.3,545.4 547.9,545.4 542.1,534.2" fill="#00ff00"/><polygon points="572.9,583.1 584.5,583.1 578.7,571.9" fill="#00ff00"/><polygon points="609.6,537.0 621.2,537.0 615.4,525.8" fill="#00ff00"/><polygon points="646.3,538.0 657.9,538.0 652.1,526.8" fill="#00ff00"/><polygon points="683.0,183.3 694.6,183.3 688.8,172.1" fill="#00ff00"/><polygon points="719.7,247.3 731.3,247.3 725.5,236.1" fill="#00ff00"/><polygon points="756.3,244.1 767.9,244.1 762.1,232.9" fill="#00ff00"/><polygon points="793.0,296.6 804.6,296.6 798.8,285.4" fill="#00ff00"/><polygon points="829.7,307.1 841.3,307.1 835.5,295.9" fill="#00ff00"/><polygon points="866.4,307.1 878.0,307.1 872.2,295.9" fill="#00ff00"/><polygon points="903.1,334.4 914.7,334.4 908.9,323.2" fill="#00ff00"/><polygon points="939.7,291.4 951.3,291.4 945.5,280.2" fill="#00ff00"/><polygon points="976.4,261.1 988.0,261.1 982.2,249.9" fill="#00ff00"/><polygon points="1013.1,349.3 1024.7,349.3 1018.9,338.1" fill="#00ff00"/><polygon points="1049.8,340.5 1061.4,340.5 1055.6,329.3" fill="#00ff00"/><polygon points="1086.5,297.5 1098.1,297.5 1092.3,286.3" fill="#00ff00"/><polygon points="1123.1,275.2 1134.7,275.2 1128.9,264.0" fill="#00ff00"/><polygon points="1159.8,270.8 1171.4,270.8 1165.6,259.6" fill="#00ff00"/>
<path d="M138.6,555.7V612.4M133.1,555.7h11M133.1,612.4h11M175.3,498.8V580.7M169.8,498.8h11M169.8,580.7h11M211.9,520.9V554.4M206.4,520.9h11M206.4,554.4h11M248.6,518.8V552.3M243.1,518.8h11M243.1,552.3h11M285.3,512.5V550.2M279.8,512.5h11M279.8,550.2h11M322.0,495.3V570.8M316.5,495.3h11M316.5,570.8h11M358.7,558.0V600.0M353.2,558.0h11M353.2,600.0h11M395.3,574.0V613.8M389.8,574.0h11M389.8,613.8h11M432.0,532.4V570.2M426.5,532.4h11M426.5,570.2h11M468.7,535.6V564.9M463.2,535.6h11M463.2,564.9h11M505.4,531.4V556.5M499.9,531.4h11M499.9,556.5h11M542.1,506.6V567.5M536.6,506.6h11M536.6,567.5h11M578.7,538.5V618.3M573.2,538.5h11M573.2,618.3h11M615.4,496.5V563.7M609.9,496.5h11M609.9,563.7h11M652.1,513.1V550.9M646.6,513.1h11M646.6,550.9h11M688.8,191.3V262.7M683.3,191.3h11M683.3,262.7h11M725.5,195.5V237.5M720.0,195.5h11M720.0,237.5h11M762.1,248.8V299.2M756.6,248.8h11M756.6,299.2h11M798.8,238.1V280.1M793.3,238.1h11M793.3,280.1h11M835.5,223.9V251.1M830.0,223.9h11M830.0,251.1h11M872.2,206.0V269.0M866.7,206.0h11M866.7,269.0h11M908.9,259.3V301.3M903.4,259.3h11M903.4,301.3h11M945.5,263.7V305.7M940.0,263.7h11M940.0,305.7h11M982.2,263.3V296.9M976.7,263.3h11M976.7,296.9h11M1018.9,268.6V291.6M1013.4,268.6h11M1013.4,291.6h11M1055.6,290.0V323.6M1050.1,290.0h11M1050.1,323.6h11M1092.3,258.5V300.5M1086.8,258.5h11M1086.8,300.5h11M1128.9,273.2V336.1M1123.4,273.2h11M1123.4,336.1h11M1165.6,206.0V269.0M1160.1,206.0h11M1160.1,269.0h11" stroke="#000" stroke-width="1.8" fill="none"/>
<polyline points="138.6,584.0 175.3,539.8 211.9,537.7 248.6,535.6 285.3,531.4 322.0,533.0 358.7,579.0 395.3,593.9 432.0,551.3 468.7,550.2 505.4,543.9 542.1,537.0 578.7,578.4 615.4,530.1 652.1,532.0 688.8,227.0 725.5,216.5 762.1,274.0 798.8,259.1 835.5,237.5 872.2,237.5 908.9,280.3 945.5,284.7 982.2,280.1 1018.9,280.1 1055.6,306.8 1092.3,279.5 1128.9,304.7 1165.6,237.5" fill="none" stroke="#000" stroke-width="2" stroke-linejoin="round"/>
<rect x="133.1" y="578.5" width="11.00" height="11.00" fill="#000"/><rect x="169.8" y="534.3" width="11.00" height="11.00" fill="#000"/><rect x="206.4" y="532.2" width="11.00" height="11.00" fill="#000"/><rect x="243.1" y="530.1" width="11.00" height="11.00" fill="#000"/><rect x="279.8" y="525.9" width="11.00" height="11.00" fill="#000"/><rect x="316.5" y="527.5" width="11.00" height="11.00" fill="#000"/><rect x="353.2" y="573.5" width="11.00" height="11.00" fill="#000"/><rect x="389.8" y="588.4" width="11.00" height="11.00" fill="#000"/><rect x="426.5" y="545.8" width="11.00" height="11.00" fill="#000"/><rect x="463.2" y="544.7" width="11.00" height="11.00" fill="#000"/><rect x="499.9" y="538.4" width="11.00" height="11.00" fill="#000"/><rect x="536.6" y="531.5" width="11.00" height="11.00" fill="#000"/><rect x="573.2" y="572.9" width="11.00" height="11.00" fill="#000"/><rect x="609.9" y="524.6" width="11.00" height="11.00" fill="#000"/><rect x="646.6" y="526.5" width="11.00" height="11.00" fill="#000"/><rect x="683.3" y="221.5" width="11.00" height="11.00" fill="#000"/><rect x="720.0" y="211.0" width="11.00" height="11.00" fill="#000"/><rect x="756.6" y="268.5" width="11.00" height="11.00" fill="#000"/><rect x="793.3" y="253.6" width="11.00" height="11.00" fill="#000"/><rect x="830.0" y="232.0" width="11.00" height="11.00" fill="#000"/><rect x="866.7" y="232.0" width="11.00" height="11.00" fill="#000"/><rect x="903.4" y="274.8" width="11.00" height="11.00" fill="#000"/><rect x="940.0" y="279.2" width="11.00" height="11.00" fill="#000"/><rect x="976.7" y="274.6" width="11.00" height="11.00" fill="#000"/><rect x="1013.4" y="274.6" width="11.00" height="11.00" fill="#000"/><rect x="1050.1" y="301.3" width="11.00" height="11.00" fill="#000"/><rect x="1086.8" y="274.0" width="11.00" height="11.00" fill="#000"/><rect x="1123.4" y="299.2" width="11.00" height="11.00" fill="#000"/><rect x="1160.1" y="232.0" width="11.00" height="11.00" fill="#000"/>
<path d="M138.6,552.3V555.6M138.6,570.0V573.3M133.1,552.3h11M133.1,573.3h11M175.3,518.8V524.2M175.3,538.6V543.9M169.8,518.8h11M169.8,543.9h11M211.9,489.2V507.2M211.9,521.6V539.5M206.4,489.2h11M206.4,539.5h11M248.6,518.8V522.1M248.6,536.5V539.8M243.1,518.8h11M243.1,539.8h11M285.3,486.4V497.1M285.3,511.5V522.1M279.8,486.4h11M279.8,522.1h11M322.0,523.0V528.4M322.0,542.8V548.1M316.5,523.0h11M316.5,548.1h11M358.7,516.2V523.7M358.7,538.1V545.6M353.2,516.2h11M353.2,545.6h11M395.3,537.7V540.9M395.3,555.3V558.6M389.8,537.7h11M389.8,558.6h11M432.0,566.6V572.0M432.0,586.4V591.8M426.5,566.6h11M426.5,591.8h11M468.7,561.8V571.4M468.7,585.8V595.4M463.2,561.8h11M463.2,595.4h11M499.9,513.3h11M499.9,525.9h11M542.1,520.7V544.9M542.1,559.3V583.6M536.6,520.7h11M536.6,583.6h11M578.7,551.5V561.1M578.7,575.5V585.1M573.2,551.5h11M573.2,585.1h11M615.4,526.3V540.1M615.4,554.5V568.3M609.9,526.3h11M609.9,568.3h11M652.1,548.8V581.5M652.1,595.9V628.5M646.6,548.8h11M646.6,628.5h11M688.8,560.7V571.6M688.8,586.0V596.8M683.3,560.7h11M683.3,596.8h11M725.5,510.8V523.9M725.5,538.3V551.5M720.0,510.8h11M720.0,551.5h11M762.1,579.2V597.6M762.1,612.0V630.4M756.6,579.2h11M756.6,630.4h11M798.8,511.2V534.9M798.8,549.3V572.9M793.3,511.2h11M793.3,572.9h11M835.5,490.2V503.2M835.5,517.6V530.5M830.0,490.2h11M830.0,530.5h11M872.2,568.9V571.6M872.2,586.0V588.7M866.7,568.9h11M866.7,588.7h11M908.9,551.5V566.1M908.9,580.5V595.2M903.4,551.5h11M903.4,595.2h11M945.5,586.6V592.4M945.5,606.8V612.6M940.0,586.6h11M940.0,612.6h11M982.2,510.8V523.9M982.2,538.3V551.5M976.7,510.8h11M976.7,551.5h11M1018.9,539.1V550.0M1018.9,564.4V575.2M1013.4,539.1h11M1013.4,575.2h11M1055.6,537.7V540.1M1055.6,554.5V557.0M1050.1,537.7h11M1050.1,557.0h11M1092.3,544.8V561.1M1092.3,575.5V591.8M1086.8,544.8h11M1086.8,591.8h11M1128.9,513.5V529.4M1128.9,543.8V559.7M1123.4,513.5h11M1123.4,559.7h11M1165.6,527.6V545.1M1165.6,559.5V577.1M1160.1,527.6h11M1160.1,577.1h11" stroke="#000" stroke-width="1.8" fill="none"/>
<polyline points="138.6,562.8 175.3,531.4 211.9,514.4 248.6,529.3 285.3,504.3 322.0,535.6 358.7,530.9 395.3,548.1 432.0,579.2 468.7,578.6 505.4,519.6 542.1,552.1 578.7,568.3 615.4,547.3 652.1,588.7 688.8,578.8 725.5,531.1 762.1,604.8 798.8,542.1 835.5,510.4 872.2,578.8 908.9,573.3 945.5,599.6 982.2,531.1 1018.9,557.2 1055.6,547.3 1092.3,568.3 1128.9,536.6 1165.6,552.3" fill="none" stroke="#000" stroke-width="2" stroke-linejoin="round"/>
<circle cx="138.6" cy="562.8" r="5.40" fill="none" stroke="#000" stroke-width="3.60"/><circle cx="175.3" cy="531.4" r="5.40" fill="none" stroke="#000" stroke-width="3.60"/><circle cx="211.9" cy="514.4" r="5.40" fill="none" stroke="#000" stroke-width="3.60"/><circle cx="248.6" cy="529.3" r="5.40" fill="none" stroke="#000" stroke-width="3.60"/><circle cx="285.3" cy="504.3" r="5.40" fill="none" stroke="#000" stroke-width="3.60"/><circle cx="322.0" cy="535.6" r="5.40" fill="none" stroke="#000" stroke-width="3.60"/><circle cx="358.7" cy="530.9" r="5.40" fill="none" stroke="#000" stroke-width="3.60"/><circle cx="395.3" cy="548.1" r="5.40" fill="none" stroke="#000" stroke-width="3.60"/><circle cx="432.0" cy="579.2" r="5.40" fill="none" stroke="#000" stroke-width="3.60"/><circle cx="468.7" cy="578.6" r="5.40" fill="none" stroke="#000" stroke-width="3.60"/><circle cx="505.4" cy="519.6" r="5.40" fill="none" stroke="#000" stroke-width="3.60"/><circle cx="542.1" cy="552.1" r="5.40" fill="none" stroke="#000" stroke-width="3.60"/><circle cx="578.7" cy="568.3" r="5.40" fill="none" stroke="#000" stroke-width="3.60"/><circle cx="615.4" cy="547.3" r="5.40" fill="none" stroke="#000" stroke-width="3.60"/><circle cx="652.1" cy="588.7" r="5.40" fill="none" stroke="#000" stroke-width="3.60"/><circle cx="688.8" cy="578.8" r="5.40" fill="none" stroke="#000" stroke-width="3.60"/><circle cx="725.5" cy="531.1" r="5.40" fill="none" stroke="#000" stroke-width="3.60"/><circle cx="762.1" cy="604.8" r="5.40" fill="none" stroke="#000" stroke-width="3.60"/><circle cx="798.8" cy="542.1" r="5.40" fill="none" stroke="#000" stroke-width="3.60"/><circle cx="835.5" cy="510.4" r="5.40" fill="none" stroke="#000" stroke-width="3.60"/><circle cx="872.2" cy="578.8" r="5.40" fill="none" stroke="#000" stroke-width="3.60"/><circle cx="908.9" cy="573.3" r="5.40" fill="none" stroke="#000" stroke-width="3.60"/><circle cx="945.5" cy="599.6" r="5.40" fill="none" stroke="#000" stroke-width="3.60"/><circle cx="982.2" cy="531.1" r="5.40" fill="none" stroke="#000" stroke-width="3.60"/><circle cx="1018.9" cy="557.2" r="5.40" fill="none" stroke="#000" stroke-width="3.60"/><circle cx="1055.6" cy="547.3" r="5.40" fill="none" stroke="#000" stroke-width="3.60"/><circle cx="1092.3" cy="568.3" r="5.40" fill="none" stroke="#000" stroke-width="3.60"/><circle cx="1128.9" cy="536.6" r="5.40" fill="none" stroke="#000" stroke-width="3.60"/><circle cx="1165.6" cy="552.3" r="5.40" fill="none" stroke="#000" stroke-width="3.60"/>
<line x1="102.0" y1="14.6" x2="102.0" y2="754.3" stroke="#000" stroke-width="5.6"/>
<line x1="99.2" y1="751.75" x2="1205.4" y2="751.75" stroke="#000" stroke-width="5.2"/>
<line x1="92.3" y1="730.76" x2="102.0" y2="730.76" stroke="#000" stroke-width="5.2"/>
<line x1="92.3" y1="688.78" x2="102.0" y2="688.78" stroke="#000" stroke-width="5.2"/>
<line x1="85.2" y1="646.80" x2="102.0" y2="646.80" stroke="#000" stroke-width="5.4"/>
<line x1="92.3" y1="604.82" x2="102.0" y2="604.82" stroke="#000" stroke-width="5.2"/>
<line x1="92.3" y1="562.84" x2="102.0" y2="562.84" stroke="#000" stroke-width="5.2"/>
<line x1="92.3" y1="520.86" x2="102.0" y2="520.86" stroke="#000" stroke-width="5.2"/>
<line x1="92.3" y1="478.88" x2="102.0" y2="478.88" stroke="#000" stroke-width="5.2"/>
<line x1="85.2" y1="436.90" x2="102.0" y2="436.90" stroke="#000" stroke-width="5.4"/>
<line x1="92.3" y1="394.92" x2="102.0" y2="394.92" stroke="#000" stroke-width="5.2"/>
<line x1="92.3" y1="352.94" x2="102.0" y2="352.94" stroke="#000" stroke-width="5.2"/>
<line x1="92.3" y1="310.96" x2="102.0" y2="310.96" stroke="#000" stroke-width="5.2"/>
<line x1="92.3" y1="268.98" x2="102.0" y2="268.98" stroke="#000" stroke-width="5.2"/>
<line x1="85.2" y1="227.00" x2="102.0" y2="227.00" stroke="#000" stroke-width="5.4"/>
<line x1="92.3" y1="185.02" x2="102.0" y2="185.02" stroke="#000" stroke-width="5.2"/>
<line x1="92.3" y1="143.04" x2="102.0" y2="143.04" stroke="#000" stroke-width="5.2"/>
<line x1="92.3" y1="101.06" x2="102.0" y2="101.06" stroke="#000" stroke-width="5.2"/>
<line x1="92.3" y1="59.08" x2="102.0" y2="59.08" stroke="#000" stroke-width="5.2"/>
<line x1="85.2" y1="17.10" x2="102.0" y2="17.10" stroke="#000" stroke-width="5.4"/>
<text transform="matrix(0.287,0,0,0.292,82.0,657.40)" text-anchor="end" class="b">10</text>
<text transform="matrix(0.287,0,0,0.292,82.0,447.50)" text-anchor="end" class="b">20</text>
<text transform="matrix(0.287,0,0,0.292,82.0,237.60)" text-anchor="end" class="b">30</text>
<text transform="matrix(0.287,0,0,0.292,82.0,27.70)" text-anchor="end" class="b">40</text>
<line x1="138.58" y1="751.75" x2="138.58" y2="767.7" stroke="#000" stroke-width="5.6"/>
<text transform="matrix(0.286,0,0,0.293,138.88,799.7)" text-anchor="middle" class="b">-14</text>
<line x1="211.94" y1="751.75" x2="211.94" y2="767.7" stroke="#000" stroke-width="5.6"/>
<text transform="matrix(0.286,0,0,0.293,212.24,799.7)" text-anchor="middle" class="b">-12</text>
<line x1="285.30" y1="751.75" x2="285.30" y2="767.7" stroke="#000" stroke-width="5.6"/>
<text transform="matrix(0.286,0,0,0.293,285.60,799.7)" text-anchor="middle" class="b">-10</text>
<line x1="358.66" y1="751.75" x2="358.66" y2="767.7" stroke="#000" stroke-width="5.6"/>
<text transform="matrix(0.286,0,0,0.293,358.96,799.7)" text-anchor="middle" class="b">-8</text>
<line x1="432.02" y1="751.75" x2="432.02" y2="767.7" stroke="#000" stroke-width="5.6"/>
<text transform="matrix(0.286,0,0,0.293,432.32,799.7)" text-anchor="middle" class="b">-6</text>
<line x1="505.38" y1="751.75" x2="505.38" y2="767.7" stroke="#000" stroke-width="5.6"/>
<text transform="matrix(0.286,0,0,0.293,505.68,799.7)" text-anchor="middle" class="b">-4</text>
<line x1="578.74" y1="751.75" x2="578.74" y2="767.7" stroke="#000" stroke-width="5.6"/>
<text transform="matrix(0.286,0,0,0.293,579.04,799.7)" text-anchor="middle" class="b">-2</text>
<line x1="652.10" y1="751.75" x2="652.10" y2="767.7" stroke="#000" stroke-width="5.6"/>
<text transform="matrix(0.286,0,0,0.293,652.40,799.7)" text-anchor="middle" class="b">0</text>
<line x1="725.46" y1="751.75" x2="725.46" y2="767.7" stroke="#000" stroke-width="5.6"/>
<text transform="matrix(0.286,0,0,0.293,725.76,799.7)" text-anchor="middle" class="b">2</text>
<line x1="798.82" y1="751.75" x2="798.82" y2="767.7" stroke="#000" stroke-width="5.6"/>
<text transform="matrix(0.286,0,0,0.293,799.12,799.7)" text-anchor="middle" class="b">4</text>
<line x1="872.18" y1="751.75" x2="872.18" y2="767.7" stroke="#000" stroke-width="5.6"/>
<text transform="matrix(0.286,0,0,0.293,872.48,799.7)" text-anchor="middle" class="b">6</text>
<line x1="945.54" y1="751.75" x2="945.54" y2="767.7" stroke="#000" stroke-width="5.6"/>
<text transform="matrix(0.286,0,0,0.293,945.84,799.7)" text-anchor="middle" class="b">8</text>
<line x1="1018.90" y1="751.75" x2="1018.90" y2="767.7" stroke="#000" stroke-width="5.6"/>
<text transform="matrix(0.286,0,0,0.293,1019.20,799.7)" text-anchor="middle" class="b">10</text>
<line x1="1092.26" y1="751.75" x2="1092.26" y2="767.7" stroke="#000" stroke-width="5.6"/>
<text transform="matrix(0.286,0,0,0.293,1092.56,799.7)" text-anchor="middle" class="b">12</text>
<line x1="1165.62" y1="751.75" x2="1165.62" y2="767.7" stroke="#000" stroke-width="5.6"/>
<text transform="matrix(0.286,0,0,0.293,1165.92,799.7)" text-anchor="middle" class="b">14</text>
<text transform="matrix(0.36314,0,0,0.35890,551.94,861.20)" class="b">Time (days)</text>
<text transform="translate(34.9,484.66) rotate(-90) scale(0.35142,0.36000)" class="b">IOP (mmHg)</text>
<line x1="652.2" y1="668" x2="652.2" y2="725" stroke="#000" stroke-width="3.4"/>
<polygon points="646.7,670.8 652.3,659.8 658,670.8" fill="#000"/>
<text transform="matrix(0.24815,0,0,0.25000,661.46,710.20)" class="b">MCE injection</text>
<line x1="1256.4" y1="218.6" x2="1295.8" y2="218.6" stroke="#000" stroke-width="1.9"/>
<circle cx="1276.2" cy="218.6" r="5.40" fill="none" stroke="#000" stroke-width="3.60"/>
<text transform="matrix(0.30379,0,0,0.30548,1318.48,228.80)" class="r">control</text>
<line x1="1258.2" y1="278.1" x2="1297.8" y2="278.1" stroke="#000" stroke-width="1.9"/>
<rect x="1272.5" y="272.6" width="11.00" height="11.00" fill="#000"/>
<text transform="matrix(0.30286,0,0,0.31857,1319.88,288.60)" class="r">MCE</text>
<line x1="1258.0" y1="328.6" x2="1297.8" y2="328.6" stroke="#00ee00" stroke-width="1.9"/>
<polygon points="1272.3,334.2 1283.9,334.2 1278.1,323.0" fill="#00ff00"/>
<text transform="matrix(0.29091,0,0,0.29863,1319.97,338.70)" class="r">N low</text>
<line x1="1259.1" y1="378.9" x2="1298.7" y2="378.9" stroke="#ee1010" stroke-width="1.9"/>
<polygon points="1273.0,373.5 1284.6,373.5 1278.8,384.3" fill="#ff0000"/>
<text transform="matrix(0.29673,0,0,0.30137,1321.12,389.00)" class="r">C low</text>
<line x1="1260.0" y1="419.9" x2="1299.9" y2="419.9" stroke="#a000e0" stroke-width="1.9"/>
<polygon points="1279.8,414.6 1285.1,419.9 1279.8,425.2 1274.5,419.9" fill="#b800fa"/>
<text transform="matrix(0.30364,0,0,0.30411,1321.77,430.20)" class="r">N high</text>
<line x1="1263.7" y1="470.3" x2="1303.5" y2="470.3" stroke="#0000e6" stroke-width="1.9"/>
<circle cx="1283.5" cy="470.3" r="5.80" fill="#0000ff"/>
<text transform="matrix(0.31115,0,0,0.30000,1325.74,480.60)" class="r">C high</text>
<line x1="1264.3" y1="528.0" x2="1304.2" y2="528.0" stroke="#f0b070" stroke-width="1.9"/>
<polygon points="1289.9,528.0 1287.2,532.6 1281.9,532.6 1279.3,528.0 1281.9,523.4 1287.2,523.4" fill="#f2b077"/>
<text transform="matrix(0.29965,0,0,0.30000,1326.30,538.40)" class="r">N low / C low</text>
<line x1="1264.8" y1="587.8" x2="1303.4" y2="587.8" stroke="#000" stroke-width="1.9"/>
<circle cx="1284.6" cy="587.8" r="7.40" fill="#000"/><path d="M1281.7,586.8 A3.10,3.10 0 0 1 1287.5,586.8 Z" fill="#fff"/>
<text transform="matrix(0.30439,0,0,0.30000,1326.26,597.60)" class="r">N high / C low</text>
<line x1="1263.0" y1="653.0" x2="1302.6" y2="653.0" stroke="#000" stroke-width="1.9"/>
<rect x="1275.5" y="645.8" width="14.40" height="14.40" fill="#000"/><rect x="1281.8" y="649.0" width="1.80" height="1.60" fill="#fff"/><rect x="1281.8" y="655.6" width="1.80" height="1.60" fill="#fff"/>
<text transform="matrix(0.30641,0,0,0.30137,1324.55,663.10)" class="r">N low / C high</text>
<line x1="1261.2" y1="707.0" x2="1300.6" y2="707.0" stroke="#000" stroke-width="1.9"/>
<circle cx="1280.9" cy="707.0" r="4.10" fill="none" stroke="#000" stroke-width="3.40"/>
<text transform="matrix(0.31051,0,0,0.30685,1322.82,717.40)" class="r">N high / C high</text>
</svg>
</body></html>
